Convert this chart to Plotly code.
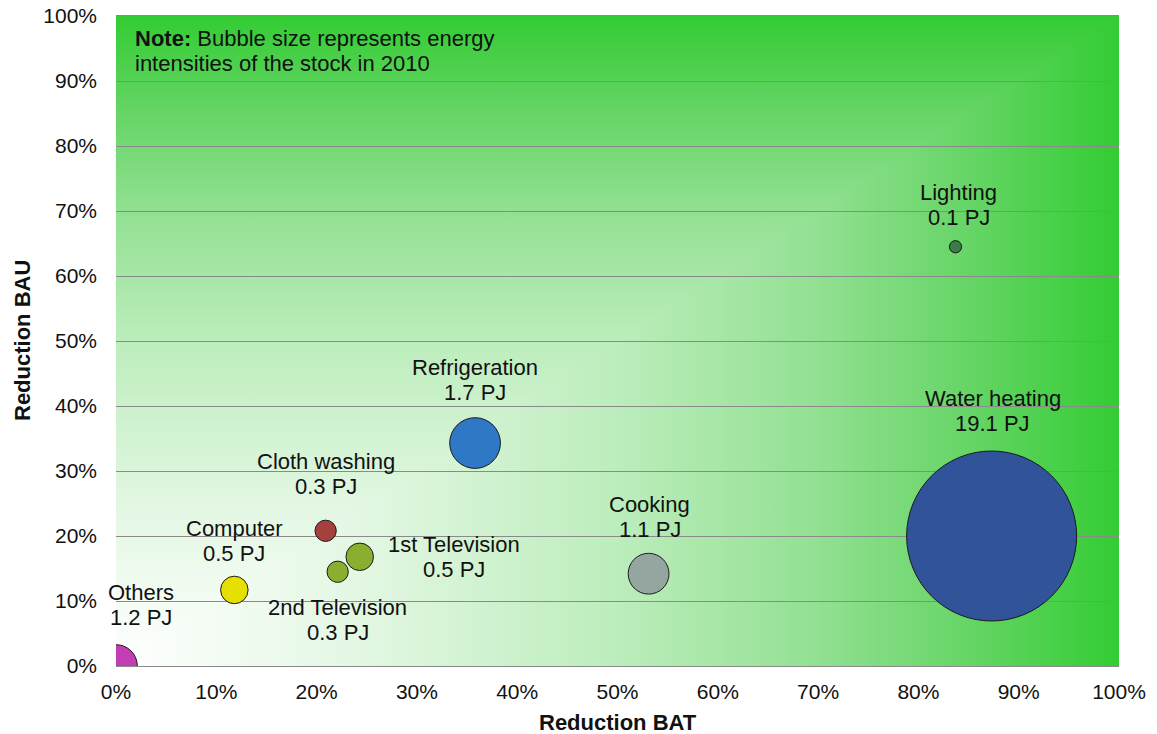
import base64
import plotly.graph_objects as go

# End-use categories, savings potential and 2010 stock energy intensity
categories = ["Others", "Computer", "Cloth washing", "1st Television", "2nd Television",
              "Refrigeration", "Cooking", "Water heating", "Lighting"]
reduction_bat = [0.000, 0.118, 0.209, 0.243, 0.221, 0.358, 0.531, 0.873, 0.837]
reduction_bau = [0.000, 0.117, 0.208, 0.168, 0.145, 0.343, 0.142, 0.200, 0.645]
energy_pj = [1.2, 0.5, 0.3, 0.5, 0.3, 1.7, 1.1, 19.1, 0.1]
bubble_colors = ["#C33DB3", "#E6E000", "#A4403D", "#8AAE2F", "#8AAE2F",
                 "#2F78C6", "#95A59F", "#315399", "#3E7A46"]

# label block offsets in pixels (dx, dy) relative to each bubble centre
label_offsets = [(25, 61), (0, 49), (0, 57), (94, 0), (0, -48),
                 (0, 63), (1, 57), (1, 125), (3, 42)]

tick_values = [i / 10 for i in range(11)]
tick_labels = [f"{i * 10}%" for i in range(11)]

FONT = "Liberation Sans, Arial, sans-serif"
TEXT = "#111111"
LINE_GAP = 25  # px between the two lines of a label

# Rectangular "from corner" gradient: white at the origin, saturated green at the far edges
stops = [(0.0, "#ffffff"), (0.25, "#e2f7e2"), (0.5, "#bcedbc"), (0.7, "#92e092"),
         (0.85, "#66d566"), (1.0, "#33cc33")]
stop_xml = "".join(f'<stop offset="{o}" stop-color="{c}"/>' for o, c in stops)
svg = (
    '<svg xmlns="http://www.w3.org/2000/svg" width="1000" height="1000" '
    'viewBox="0 0 100 100" preserveAspectRatio="none">'
    '<defs>'
    f'<linearGradient id="gh" x1="0" y1="0" x2="1" y2="0">{stop_xml}</linearGradient>'
    f'<linearGradient id="gv" x1="0" y1="1" x2="0" y2="0">{stop_xml}</linearGradient>'
    '</defs>'
    '<rect x="0" y="0" width="100" height="100" fill="url(#gh)"/>'
    '<polygon points="0,100 0,0 100,0" fill="url(#gv)"/>'
    '</svg>'
)
bg_src = "data:image/svg+xml;base64," + base64.b64encode(svg.encode()).decode()

max_radius_px = 85
sizeref = max(energy_pj) / (2 * max_radius_px ** 2)

fig = go.Figure()
fig.add_trace(go.Scatter(
    x=reduction_bat, y=reduction_bau, mode="markers",
    marker=dict(size=energy_pj, sizemode="area", sizeref=sizeref,
                color=bubble_colors, opacity=1,
                line=dict(color="#1a1a1a", width=1)),
    hoverinfo="text",
    text=[f"{c}: {v} PJ" for c, v in zip(categories, energy_pj)],
    showlegend=False,
))

annotations = []
for name, x, y, pj, (dx, dy) in zip(categories, reduction_bat, reduction_bau, energy_pj, label_offsets):
    for line, shift in ((name, LINE_GAP / 2), (f"{pj} PJ", -LINE_GAP / 2)):
        annotations.append(dict(
            x=x, y=y, xref="x", yref="y", text=line,
            showarrow=False, xshift=dx, yshift=dy + shift, align="center",
            font=dict(family=FONT, size=22, color=TEXT),
        ))

note_lines = ["<b>Note:</b> Bubble size represents energy", "intensities of the stock in 2010"]
for i, line in enumerate(note_lines):
    annotations.append(dict(
        x=0, y=1, xref="paper", yref="paper", xanchor="left", yanchor="middle",
        xshift=17, yshift=-22 - i * LINE_GAP, align="left", showarrow=False,
        text=line, font=dict(family=FONT, size=22, color=TEXT),
    ))

# axis titles
annotations.append(dict(x=0.5, y=0, xref="paper", yref="paper", yanchor="middle",
                        yshift=-56, showarrow=False, text="<b>Reduction BAT</b>",
                        font=dict(family=FONT, size=22, color=TEXT)))
annotations.append(dict(x=0, y=0.5, xref="paper", yref="paper", xanchor="center",
                        xshift=-94, showarrow=False, text="<b>Reduction BAU</b>",
                        textangle=-90, font=dict(family=FONT, size=22, color=TEXT)))

fig.update_layout(
    width=1157, height=734,
    margin=dict(l=116, r=38, t=16, b=68, autoexpand=False),
    paper_bgcolor="white", plot_bgcolor="#33cc33",
    font=dict(family=FONT, color=TEXT),
    images=[dict(source=bg_src, xref="x", yref="y", x=0, y=1, sizex=1, sizey=1,
                 xanchor="left", yanchor="top", sizing="stretch", layer="below")],
    annotations=annotations,
    xaxis=dict(range=[0, 1], tickvals=tick_values, ticktext=tick_labels,
               showgrid=False, zeroline=False, showline=True, mirror=True,
               linecolor="#8a8a8a", linewidth=1, ticks="", ticklabelstandoff=7,
               automargin=False,
               tickfont=dict(family=FONT, size=21, color=TEXT)),
    yaxis=dict(range=[0, 1], tickvals=tick_values, ticktext=tick_labels,
               showgrid=True, gridcolor="#8a8a8a", gridwidth=1,
               zeroline=False, showline=False, ticks="", ticklabelstandoff=18,
               automargin=False,
               tickfont=dict(family=FONT, size=21, color=TEXT)),
)

fig.write_html("out.html")
